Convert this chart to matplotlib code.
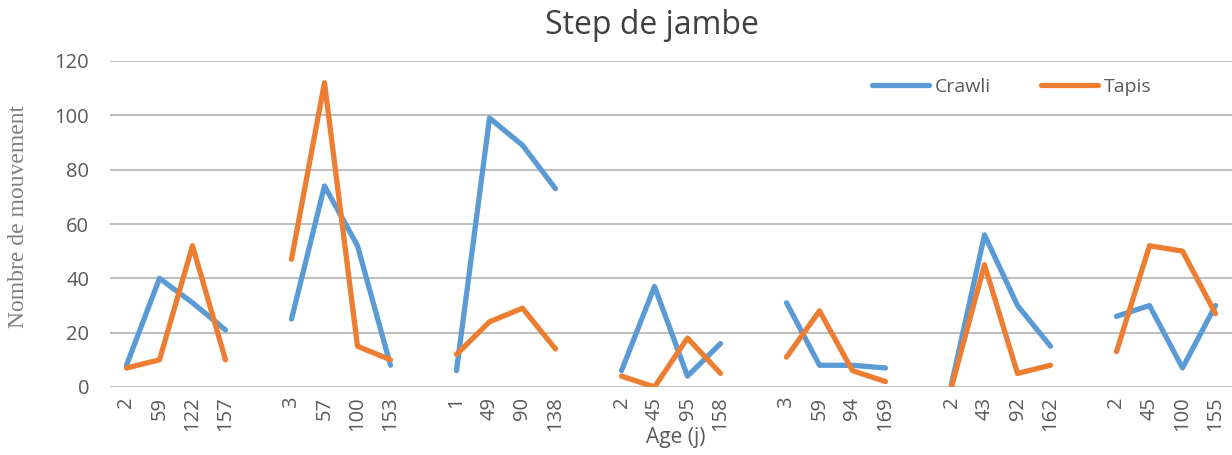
import numpy as np
import matplotlib
matplotlib.use("Agg")
import matplotlib.pyplot as plt

# ages (days) per session group, 4 measures each
ages = [
    [2, 59, 122, 157],
    [3, 57, 100, 153],
    [1, 49, 90, 138],
    [2, 45, 95, 158],
    [3, 59, 94, 169],
    [2, 43, 92, 162],
    [2, 45, 100, 155],
]
crawli = [
    [8, 40, 31, 21],
    [25, 74, 52, 8],
    [6, 99, 89, 73],
    [6, 37, 4, 16],
    [31, 8, 8, 7],
    [1, 56, 30, 15],
    [26, 30, 7, 30],
]
tapis = [
    [7, 10, 52, 10],
    [47, 112, 15, 10],
    [12, 24, 29, 14],
    [4, 0, 18, 5],
    [11, 28, 6, 2],
    [0, 45, 5, 8],
    [13, 52, 50, 27],
]

# flatten with one blank category between groups
labels, c_vals, t_vals = [], [], []
for i, (a, c, t) in enumerate(zip(ages, crawli, tapis)):
    if i > 0:
        labels.append("")
        c_vals.append(np.nan)
        t_vals.append(np.nan)
    labels += [str(v) for v in a]
    c_vals += c
    t_vals += t
x = np.arange(len(labels))

plt.rcParams['font.family'] = ['Open Sans', 'DejaVu Sans']
W, H = 1232, 455
fig = plt.figure(figsize=(W / 100, H / 100), dpi=100)
ax = fig.add_axes([110 / W, 1 - 387 / H, 1 - 110 / W, (387 - 61) / H])

ax.plot(x, c_vals, color="#5B9BD5", linewidth=3.8, label="Crawli", solid_capstyle="round")
ax.plot(x, t_vals, color="#ED7D31", linewidth=3.8, label="Tapis", solid_capstyle="round")

ax.set_xlim(-0.5, len(labels) - 0.5)
ax.set_ylim(0, 120)
ax.set_yticks(range(0, 121, 20))
ax.set_xticks(x)
ax.set_xticklabels(labels, rotation=90, fontsize=14.5, color="#595959")
ax.tick_params(axis="y", labelsize=14.5, labelcolor="#595959", length=0, pad=15)
ax.tick_params(axis="x", length=0, pad=7)
ax.grid(axis="y", color="#BFBFBF", linewidth=1.5)
ax.set_axisbelow(True)
for s in ax.spines.values():
    s.set_visible(False)

fig.text(652 / W, 1 - 25 / H, "Step de jambe", fontsize=23, color="#404040",
         ha="center", va="center")
fig.text(19 / W, 1 - 216 / H, "Nombre de mouvement", fontsize=17, color="#7F7F7F",
         family="Liberation Serif", rotation=90, ha="center", va="center")
fig.text(676 / W, 1 - 438 / H, "Age (j)", fontsize=15, color="#595959",
         ha="center", va="center")

ax.legend(loc="center left", bbox_to_anchor=(855 / W, 1 - 87 / H),
          bbox_transform=fig.transFigure, ncol=2, frameon=False,
          fontsize=14, labelcolor="#595959", handlelength=2.9, columnspacing=2.6,
          handletextpad=0.3)

fig.savefig("out.png", dpi=100)
